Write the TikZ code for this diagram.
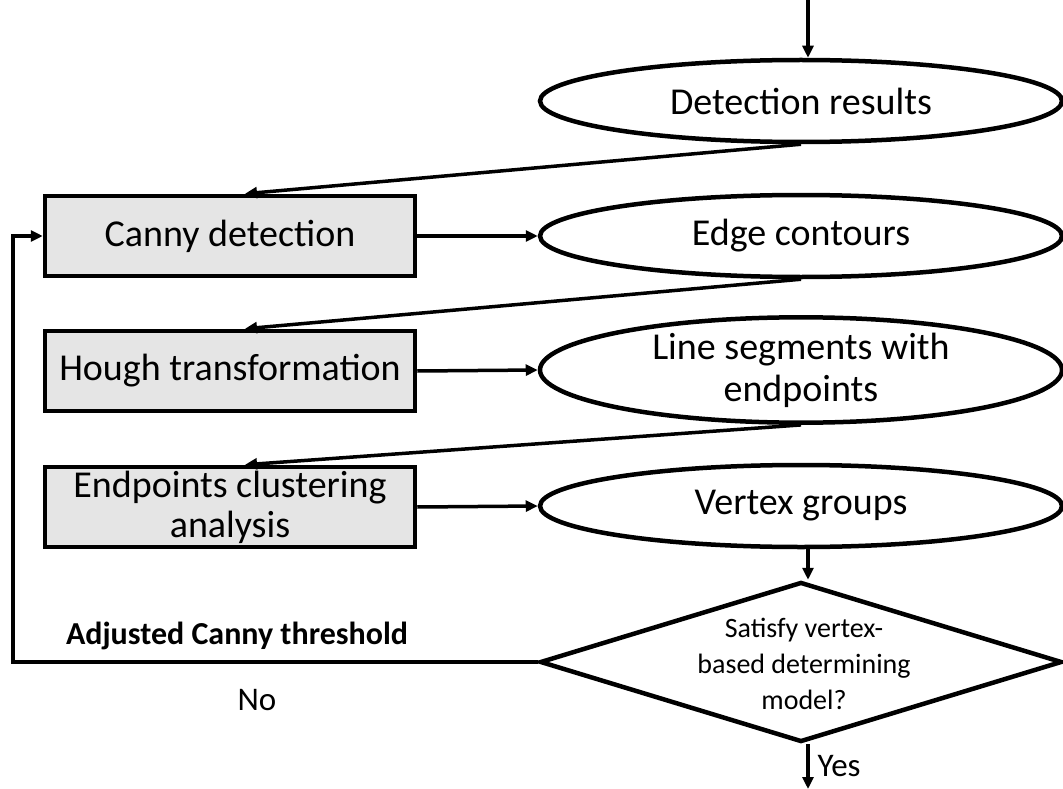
\documentclass[tikz,border=0pt]{standalone}
\usepackage{fontspec}
\setmainfont{Carlito}
\usetikzlibrary{shapes.geometric,arrows.meta}

\begin{document}
\begin{tikzpicture}[x=1pt,y=-1pt,
	proc/.style={draw,line width=4.5pt,fill=gray!20,minimum width=370pt,minimum height=80pt,inner sep=0pt,align=center,font=\fontsize{38}{40}\selectfont},
	data/.style={ellipse,draw,line width=4.5pt,minimum width=522pt,minimum height=82pt,inner sep=0pt,align=center,font=\fontsize{38}{42}\selectfont},
	decision/.style={diamond,draw,line width=4.5pt,minimum width=522pt,minimum height=160pt,inner sep=0pt},
	flow/.style={line width=3.5pt,-{Triangle[length=12pt,width=11pt]}},
	label/.style={font=\fontsize{33}{36}\selectfont,align=center}]
			\useasboundingbox (0,0) rectangle (1063,789);
			
			\node[data] (results) at (801,101) {Detection results};
			\node[proc] (canny) at (230,236) {Canny detection};
			\node[data] (edges) at (801,236) {Edge contours};
			\node[proc] (hough) at (230,371) {Hough transformation};
			\node[data,minimum height=95pt] (segments) at (801,370) {Line segments with\\endpoints};
			\node[proc] (cluster) at (230,507) {Endpoints clustering\\analysis};
			\node[data] (groups) at (801,506) {Vertex groups};
			\node[decision] (check) at (801,662) {};
			\node[label,font=\fontsize{28}{36}\selectfont] (checktext) at (804,664) {Satisfy vertex-\\based determining\\model?};
			
			\coordinate (start) at (808,0);
			\coordinate (finish) at (808,789);
			\coordinate (lowturn) at (13,662);
			\coordinate (highturn) at (13,236);
			
			\draw[flow] (start) -- (start |- results.north);
			\draw[flow] (results.south) -- ([xshift=15pt]canny.north);
			\draw[flow] (canny.east) -- (edges.west);
			\draw[flow] (edges.south) -- ([xshift=15pt]hough.north);
			\draw[flow] (hough.east) -- (segments.west);
			\draw[flow] (segments.south) -- ([xshift=15pt]cluster.north);
			\draw[flow] (cluster.east) -- (groups.west);
			\draw[flow] (groups.south -| start) -- (start |- check.north);
			\draw[flow] (start |- check.south) -- (finish);
			\draw[flow] (check.west) -- (lowturn) -- (highturn) -- (canny.west);
			
			\node[label,font=\fontsize{32}{36}\bfseries\selectfont] (adjust) at (237,636) {Adjusted Canny threshold};
			\node[label] (no) at (257,700) {No};
			\node[label,anchor=west] (yes) at (814,766) {Yes};
		\end{tikzpicture}
\end{document}
